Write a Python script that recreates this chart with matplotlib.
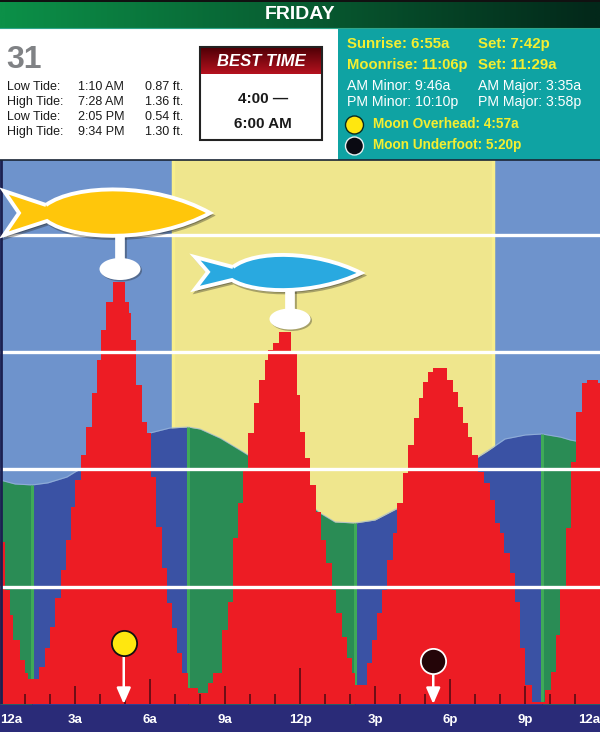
import numpy as np
import matplotlib; matplotlib.use("Agg")
import matplotlib.pyplot as plt
from matplotlib.patches import Rectangle, PathPatch, Ellipse, Circle
from matplotlib.path import Path
plt.rcParams['font.family']=['Liberation Sans','DejaVu Sans']

# activity bars: hour each step starts, height of the step
ACT_H=[0,.20,.40,.52,.80,1.0,1.12,1.56,1.80,2.00,2.20,2.44,2.64,2.84,3.00,3.24,3.44,3.68,3.88,4.04,4.24,4.52,
 5.00,5.16,5.24,5.44,5.68,5.88,6.04,6.24,6.48,6.68,6.88,7.08,7.28,7.52,7.92,8.32,8.52,8.88,9.12,9.32,9.52,9.72,9.92,
 10.16,10.36,10.60,10.72,10.92,11.16,11.64,11.88,12.00,12.20,12.40,12.64,12.84,13.04,13.28,13.44,13.68,13.88,14.08,14.20,
 14.68,14.88,15.08,15.28,15.48,15.72,15.88,16.12,16.32,16.56,16.76,16.92,17.12,17.32,17.88,18.12,18.32,18.52,18.72,18.88,
 19.12,19.36,19.60,19.80,20.00,20.16,20.40,20.60,20.80,21.00,21.28,21.80,22.04,22.24,22.40,22.64,22.84,23.04,23.28,23.48,23.92,24]
ACT_V=[162,114,89,64,44,31,25,37,56,77,106,134,164,197,224,249,277,311,344,374,402,422,
 402,391,364,319,282,271,227,177,136,101,76,51,31,16,11,21,31,74,102,166,201,234,271,
 301,324,344,354,361,372,352,309,272,246,219,192,164,141,114,91,67,46,31,19,
 41,64,91,114,144,171,201,231,259,286,306,322,332,336,324,312,297,281,267,249,
 232,221,204,181,171,151,131,102,56,19,2,14,32,69,117,176,242,292,321,324,321,321]
# tide curve
TIDE_H=[0,.6,1.28,1.9,2.68,3.0,6.0,6.8,7.52,8.0,8.8,9.6,9.92,12.8,13.4,14.2,15.0,16.0,19.12,19.5,20.2,21.0,21.68,22.4,22.8,23.04,24]
TIDE_V=[224,220,219,221,227,232,271,276,277,275,266,254,249,191,182,181,184,197,247,253,265,269,270,267,264,263,249]
TURNS=[1.28,7.52,14.2,21.68]
SUNRISE=6.92; SUNSET=19.7
MOON_H=[4.95,17.33]; MOON_V=[61,43]
LEVELS=[117.5,235,352,469]
TICK_LABELS=['12a','3a','6a','9a','12p','3p','6p','9p','12a']
TIDES=[('Low Tide:','1:10 AM','0.87 ft.'),('High Tide:','7:28 AM','1.36 ft.'),('Low Tide:','2:05 PM','0.54 ft.'),('High Tide:','9:34 PM','1.30 ft.')]

BLUE='#3A52A4'; GREEN='#2A8C55'; RED='#ED1C24'; NAVY='#2A2B78'
fig=plt.figure(figsize=(6,7.32),dpi=100,facecolor=NAVY)

# ---------- chart ----------
ax=fig.add_axes([0,28/732,1,544/732])
ax.set_xlim(0,24); ax.set_ylim(0,544)
ax.axvspan(0,SUNRISE,color='#6E93CC',lw=0,zorder=.1); ax.axvspan(SUNSET,24,color='#6E93CC',lw=0,zorder=.1)
ax.axvspan(SUNRISE,SUNSET,color='#EFE68D',lw=0,zorder=.1)
ax.axvline(SUNRISE,color='#F7EE8C',lw=2.5,zorder=.2); ax.axvline(SUNSET,color='#F7EE8C',lw=2.5,zorder=.2)
hh=np.linspace(0,24,961); tt=np.interp(hh,TIDE_H,TIDE_V)
edges=[0]+TURNS+[24]
for i in range(5):
    m=(hh>=edges[i])&(hh<=edges[i+1])
    ax.fill_between(hh[m],0,tt[m],color=GREEN if i%2==0 else BLUE,lw=0,zorder=.4)
ax.plot(hh,tt,color='#9DB7DC',lw=.8,alpha=.7,zorder=.5)
ax.vlines(TURNS,0,np.interp(TURNS,TIDE_H,TIDE_V),color='#3FAA58',lw=2.2,zorder=.6)
ax.fill_between(ACT_H,0,ACT_V,step='post',color=RED,lw=0,zorder=1)
for l in LEVELS: ax.axhline(l,color='white',lw=2.4,zorder=2)
hours=np.arange(1,24)
hts=[36 if h==12 else 25 if h%6==0 else 18 if h%3==0 else 10 for h in hours]
ax.vlines(hours,0,hts,color='#4A0A12',lw=1.1,zorder=2)
ax.axvline(0.02,color='#1B2050',lw=2,zorder=2)
# moon markers
for x,y,fc,ec in zip(MOON_H,MOON_V,['#FFE70F','#240508'],['#111111','white']):
    ax.annotate('',xy=(x,0),xytext=(x,y),arrowprops=dict(arrowstyle='-|>,head_width=.35,head_length=.8',mutation_scale=12,color='white',lw=1.8,shrinkA=0,shrinkB=0),zorder=4)
    ax.scatter([x],[y],s=330,c=fc,edgecolors=ec,linewidths=1.3,zorder=5)
ax.set_xticks(range(0,25,3)); ax.set_xticklabels(TICK_LABELS,color='white',fontsize=9.5,fontweight='bold')
ax.tick_params(axis='x',length=0,pad=7)
ax.set_yticks([])
lbl=ax.get_xticklabels(); lbl[0].set_ha('left'); lbl[-1].set_ha('right')
for s in ax.spines.values(): s.set_visible(False)

# ---------- panels, in picture pixels ----------
ov=fig.add_axes([0,0,1,1],facecolor='none'); ov.set_xlim(0,600); ov.set_ylim(732,0); ov.axis('off')
def grad(x0,x1,y0,y1,c0,c1,vert=False,z=1):
    c0=np.array(matplotlib.colors.to_rgb(c0)); c1=np.array(matplotlib.colors.to_rgb(c1))
    t=np.linspace(0,1,64)[:,None]
    g=(c0*(1-t)+c1*t)
    g=g[:,None,:] if vert else g[None,:,:]
    ov.imshow(g,extent=(x0,x1,y1,y0),aspect='auto',interpolation='bilinear',zorder=z)
ov.add_patch(Rectangle((0,0),600,2,fc='#111111',lw=0))
grad(0,600,2,28,'#0C9048','#03281A')
ov.add_patch(Rectangle((0,28),338,132,fc='white',lw=0,zorder=1))
ov.add_patch(Rectangle((338,28),262,132,fc='#0FA3A3',lw=0,zorder=1))
ov.plot([0,600],[160,160],color='#1A2535',lw=1.2,zorder=2)
ov.plot([0,600],[28,28],color='#2FA58A',lw=.8,zorder=2)
ov.set_xlim(0,600); ov.set_ylim(732,0)
ov.text(300,14.5,'FRIDAY',color='white',fontsize=14,fontweight='bold',ha='center',va='center',zorder=3)
ov.text(6,60,'31',color='#808285',fontsize=23,fontweight='bold',ha='left',va='center',zorder=3)
for y,row in zip([87,102,117,132],TIDES):
    for x,s in zip([7,78,145],row):
        ov.text(x,y,s,color='#1A1A1A',fontsize=9,ha='left',va='center',zorder=3)
# best time box
ov.add_patch(Rectangle((200,47),122,93,fc='white',ec='#222222',lw=1.5,zorder=2))
grad(201,321,48,74,'#520006','#B5121F',vert=True,z=3)
ov.text(261,62,'BEST TIME',color='white',fontsize=12,fontweight='bold',style='italic',ha='center',va='center',zorder=4)
ov.text(263,99,'4:00 —',color='#1A1A1A',fontsize=11,fontweight='bold',ha='center',va='center',zorder=3)
ov.text(263,124,'6:00 AM',color='#1A1A1A',fontsize=11,fontweight='bold',ha='center',va='center',zorder=3)
# sun / moon text
Y='#F4EE30'
for x,y,s,c,fw,fs in [(347,44,'Sunrise: 6:55a',Y,'bold',10.8),(478,44,'Set: 7:42p',Y,'bold',10.8),
                   (347,65,'Moonrise: 11:06p',Y,'bold',10.6),(478,65,'Set: 11:29a',Y,'bold',10.8),
                   (347,86,'AM Minor: 9:46a','white','normal',10.2),(478,86,'AM Major: 3:35a','white','normal',10.2),
                   (347,102,'PM Minor: 10:10p','white','normal',10.2),(478,102,'PM Major: 3:58p','white','normal',10.2)]:
    ov.text(x,y,s,color=c,fontsize=fs,fontweight=fw,ha='left',va='center',zorder=3)
ov.text(373,124,'Moon Overhead: 4:57a',color=Y,fontsize=9.8,fontweight='bold',ha='left',va='center',zorder=3)
ov.text(373,145,'Moon Underfoot: 5:20p',color=Y,fontsize=9.8,fontweight='bold',ha='left',va='center',zorder=3)
ov.add_patch(Circle((354.5,125),9,fc='#FFE70F',ec='#0B2A20',lw=1,zorder=3))
ov.add_patch(Circle((354.5,146),9,fc='#0A0A12',ec='#E5F0F0',lw=1,zorder=3))

# ---------- fish ----------
def fish(nose,t1,t2,jt,tt_,notch,tb,jb,b1,b2):
    v=[jt,t1,t2,nose,b2,b1,jb,tb,notch,tt_,jt]
    c=[Path.MOVETO]+[Path.CURVE4]*6+[Path.LINETO]*4
    return Path(v,c)
def draw_fish(p,col,stem,sy0,sy1,ey,ew,eh):
    sh=matplotlib.transforms.Affine2D().translate(2,2.5)+ov.transData
    ov.add_patch(PathPatch(p,fc='#222222',ec='#222222',lw=2.5,alpha=.35,transform=sh,zorder=5))
    ov.plot([stem+1.5,stem+1.5],[sy0,sy1],color='#222222',alpha=.35,lw=7,solid_capstyle='butt',zorder=5)
    ov.plot([stem,stem],[sy0,sy1],color='white',lw=7,solid_capstyle='butt',zorder=5.5)
    ov.add_patch(PathPatch(p,fc=col,ec='white',lw=2.8,joinstyle='miter',zorder=6))
    ov.add_patch(Ellipse((stem+1.5,ey+1.5),ew,eh,fc='#222222',lw=0,alpha=.35,zorder=5))
    ov.add_patch(Ellipse((stem,ey),ew,eh,fc='white',lw=0,zorder=6))
draw_fish(fish((210,213),(75,184),(155,182),(46,205),(4,191),(19,213),(4,235),(47,221),(75,241),(155,243)),'#FFC60B',120,233,262,269,41,22)
draw_fish(fish((361,273),(255,250),(315,250),(233,267),(195,257),(208,272),(195,289),(232,280),(255,294),(315,295)),'#29A9E0',290,288,312,319,41,21)
fig.savefig('out.png',dpi=100,facecolor=fig.get_facecolor())
